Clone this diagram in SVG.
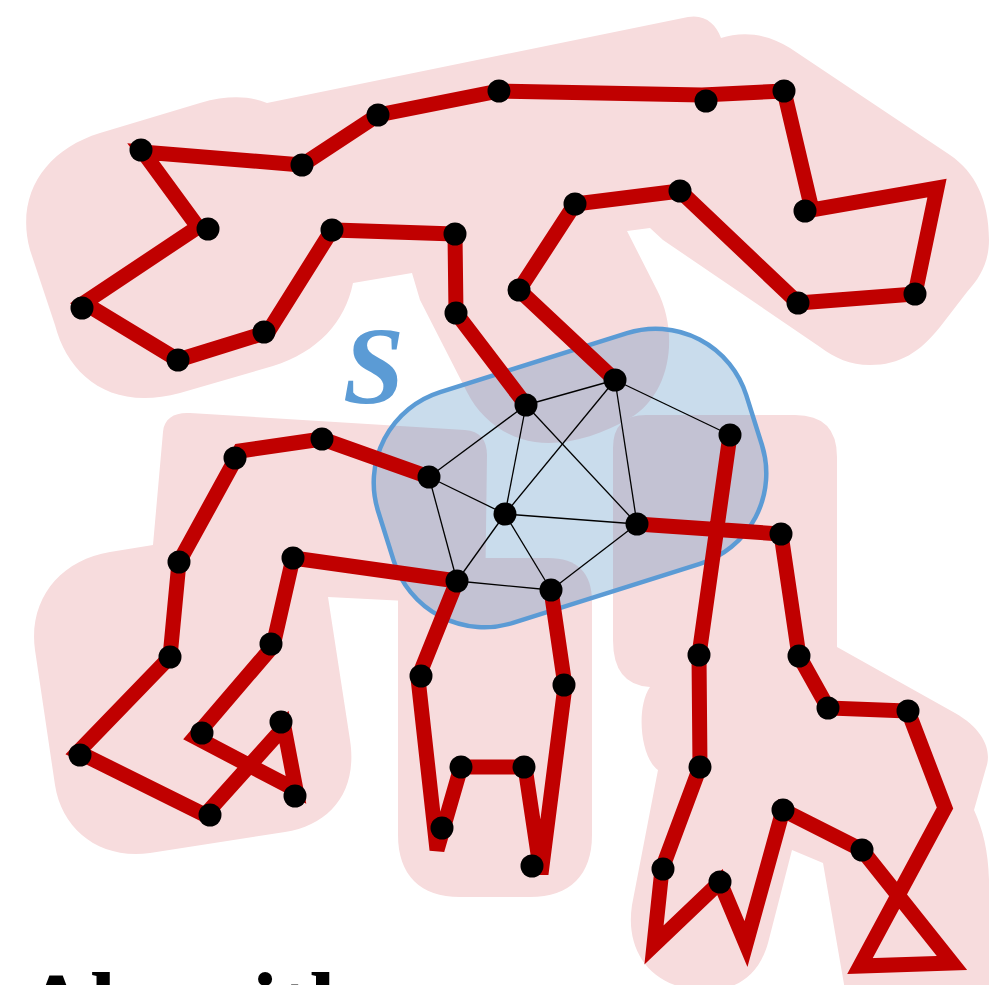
<svg xmlns="http://www.w3.org/2000/svg" width="989" height="985" viewBox="0 0 989 985">
<style>
.blob{fill:#f7dcdd;stroke:none}
.region{fill:rgb(62,130,187);fill-opacity:0.28;stroke:#5b9bd5;stroke-width:4.5}
.edge{stroke:#000;stroke-width:1.3;fill:none}
.path{stroke:#c00000;stroke-width:15;fill:none;stroke-linejoin:miter;stroke-miterlimit:4;stroke-linecap:butt}
.node circle{fill:#000}
</style>
<rect width="989" height="985" fill="#fff"/>
<g id="blobs">
<path class="blob" d="M 267,103 L 688,17 C 705,14 716,24 721,38 C 740,32 765,32 790,48 L 950,155 C 975,172 989,200 989,240 C 989,262 980,278 967,292 L 940,327 C 920,352 900,365 870,365 C 850,365 835,358 820,347 L 663,240 L 650,228 L 627,231 L 657,290 C 680,335 670,395 630,418 C 600,436 565,446 535,442 C 505,438 480,418 467,392 L 420,300 L 412,273 L 353,283 C 345,322 318,352 273,366 L 180,393 C 110,412 68,375 55,325 L 30,250 C 15,195 45,150 100,133 L 200,103 C 228,95 250,96 267,103 Z"/>
<path class="blob" d="M 163,432 C 164,418 175,412 190,413 L 465,430 C 480,431 487,440 487,455 L 485,605 L 328,597 L 350,740 C 358,792 330,825 285,832 L 150,853 C 100,860 62,830 55,785 L 35,650 C 28,600 60,560 110,552 L 153,545 Z"/>
<path class="blob" d="M 398,600 Q 398,558 440,558 L 548,558 Q 592,558 592,602 L 592,835 C 592,875 570,897 530,897 L 460,897 C 420,897 398,875 398,835 Z"/>
<path class="blob" d="M 613,448 Q 613,415 646,415 L 795,415 Q 837,415 837,457 L 837,647 L 955,713 C 985,730 992,752 986,768 L 974,810 C 983,830 988,850 989,880 L 990,990 L 845,990 L 823,863 L 792,850 L 768,943 C 756,985 725,992 698,990 C 650,986 625,950 632,905 L 658,770 C 640,757 636,707 650,687 Q 613,685 613,640 Z"/>
</g>
<g id="S-region">
<rect class="region" x="-193" y="-121" width="386" height="242" rx="95" ry="95" transform="translate(570,478) rotate(-17.5)"/>
<text x="343" y="403" font-family="Liberation Serif, serif" font-weight="bold" font-style="italic" font-size="110" fill="#5b9bd5">S</text>
</g>
<g id="connectors">
<g id="graph-edges">
<line class="edge" x1="526" y1="405" x2="615" y2="380"/>
<line class="edge" x1="615" y1="380" x2="730" y2="435"/>
<line class="edge" x1="526" y1="405" x2="429" y2="477"/>
<line class="edge" x1="526" y1="405" x2="505" y2="514"/>
<line class="edge" x1="526" y1="405" x2="637" y2="524"/>
<line class="edge" x1="615" y1="380" x2="505" y2="514"/>
<line class="edge" x1="615" y1="380" x2="637" y2="524"/>
<line class="edge" x1="429" y1="477" x2="505" y2="514"/>
<line class="edge" x1="429" y1="477" x2="457" y2="581"/>
<line class="edge" x1="505" y1="514" x2="637" y2="524"/>
<line class="edge" x1="505" y1="514" x2="457" y2="581"/>
<line class="edge" x1="505" y1="514" x2="551" y2="590"/>
<line class="edge" x1="457" y1="581" x2="551" y2="590"/>
<line class="edge" x1="551" y1="590" x2="637" y2="524"/>
</g>
<g id="tours">
<polyline class="path" points="615,380 519,290 575,204 680,191 798,303 915,294 937,188 812,210 784,91 702,95 499,91 378,115 302,165 143,152 198,227 84,303 178,360 268,332 332,230 455,234 456,313 526,405"/>
<polyline class="path" points="429,477 322,439 240,451 179,562 170,657 78,752 205,815 284,727 296,790 195,737 273,646 293,558 457,581"/>
<polyline class="path" points="457,581 418,678 437,850 461,767 525,767 541,874 565,686 551,590"/>
<polyline class="path" points="637,524 781,534 799,656 828,708 908,711 945,808 860,966 952,963 862,850 783,810 746,944 720,882 654,945 662,869 700,767 699,655 730,435"/>
</g>
</g>
<g id="nodes" class="node">
<g id="n01"><circle cx="141" cy="150" r="11.5"/></g>
<g id="n02"><circle cx="302" cy="165" r="11.5"/></g>
<g id="n03"><circle cx="378" cy="115" r="11.5"/></g>
<g id="n04"><circle cx="499" cy="91" r="11.5"/></g>
<g id="n05"><circle cx="706" cy="101" r="11.5"/></g>
<g id="n06"><circle cx="784" cy="91" r="11.5"/></g>
<g id="n07"><circle cx="805" cy="211" r="11.5"/></g>
<g id="n08"><circle cx="208" cy="229" r="11.5"/></g>
<g id="n09"><circle cx="82" cy="308" r="11.5"/></g>
<g id="n10"><circle cx="178" cy="360" r="11.5"/></g>
<g id="n11"><circle cx="264" cy="332" r="11.5"/></g>
<g id="n12"><circle cx="332" cy="230" r="11.5"/></g>
<g id="n13"><circle cx="455" cy="234" r="11.5"/></g>
<g id="n14"><circle cx="456" cy="313" r="11.5"/></g>
<g id="n15"><circle cx="575" cy="204" r="11.5"/></g>
<g id="n16"><circle cx="680" cy="191" r="11.5"/></g>
<g id="n17"><circle cx="519" cy="290" r="11.5"/></g>
<g id="n18"><circle cx="798" cy="303" r="11.5"/></g>
<g id="n19"><circle cx="915" cy="294" r="11.5"/></g>
<g id="n20"><circle cx="526" cy="405" r="11.5"/></g>
<g id="n21"><circle cx="615" cy="380" r="11.5"/></g>
<g id="n22"><circle cx="730" cy="435" r="11.5"/></g>
<g id="n23"><circle cx="429" cy="477" r="11.5"/></g>
<g id="n24"><circle cx="505" cy="514" r="11.5"/></g>
<g id="n25"><circle cx="637" cy="524" r="11.5"/></g>
<g id="n26"><circle cx="457" cy="581" r="11.5"/></g>
<g id="n27"><circle cx="551" cy="590" r="11.5"/></g>
<g id="n28"><circle cx="322" cy="439" r="11.5"/></g>
<g id="n29"><circle cx="235" cy="458" r="11.5"/></g>
<g id="n30"><circle cx="179" cy="562" r="11.5"/></g>
<g id="n31"><circle cx="170" cy="657" r="11.5"/></g>
<g id="n32"><circle cx="80" cy="755" r="11.5"/></g>
<g id="n33"><circle cx="210" cy="815" r="11.5"/></g>
<g id="n34"><circle cx="281" cy="722" r="11.5"/></g>
<g id="n35"><circle cx="295" cy="796" r="11.5"/></g>
<g id="n36"><circle cx="202" cy="733" r="11.5"/></g>
<g id="n37"><circle cx="271" cy="644" r="11.5"/></g>
<g id="n38"><circle cx="293" cy="558" r="11.5"/></g>
<g id="n39"><circle cx="421" cy="676" r="11.5"/></g>
<g id="n40"><circle cx="442" cy="828" r="11.5"/></g>
<g id="n41"><circle cx="461" cy="767" r="11.5"/></g>
<g id="n42"><circle cx="524" cy="767" r="11.5"/></g>
<g id="n43"><circle cx="532" cy="866" r="11.5"/></g>
<g id="n44"><circle cx="564" cy="685" r="11.5"/></g>
<g id="n45"><circle cx="781" cy="534" r="11.5"/></g>
<g id="n46"><circle cx="799" cy="656" r="11.5"/></g>
<g id="n47"><circle cx="828" cy="708" r="11.5"/></g>
<g id="n48"><circle cx="908" cy="711" r="11.5"/></g>
<g id="n49"><circle cx="862" cy="850" r="11.5"/></g>
<g id="n50"><circle cx="783" cy="810" r="11.5"/></g>
<g id="n51"><circle cx="720" cy="882" r="11.5"/></g>
<g id="n52"><circle cx="663" cy="869" r="11.5"/></g>
<g id="n53"><circle cx="700" cy="767" r="11.5"/></g>
<g id="n54"><circle cx="699" cy="655" r="11.5"/></g>
</g>
<text id="caption" x="22" y="1037" font-family="Liberation Serif, serif" font-weight="bold" font-size="94" fill="#000">Algorithm</text>
</svg>
